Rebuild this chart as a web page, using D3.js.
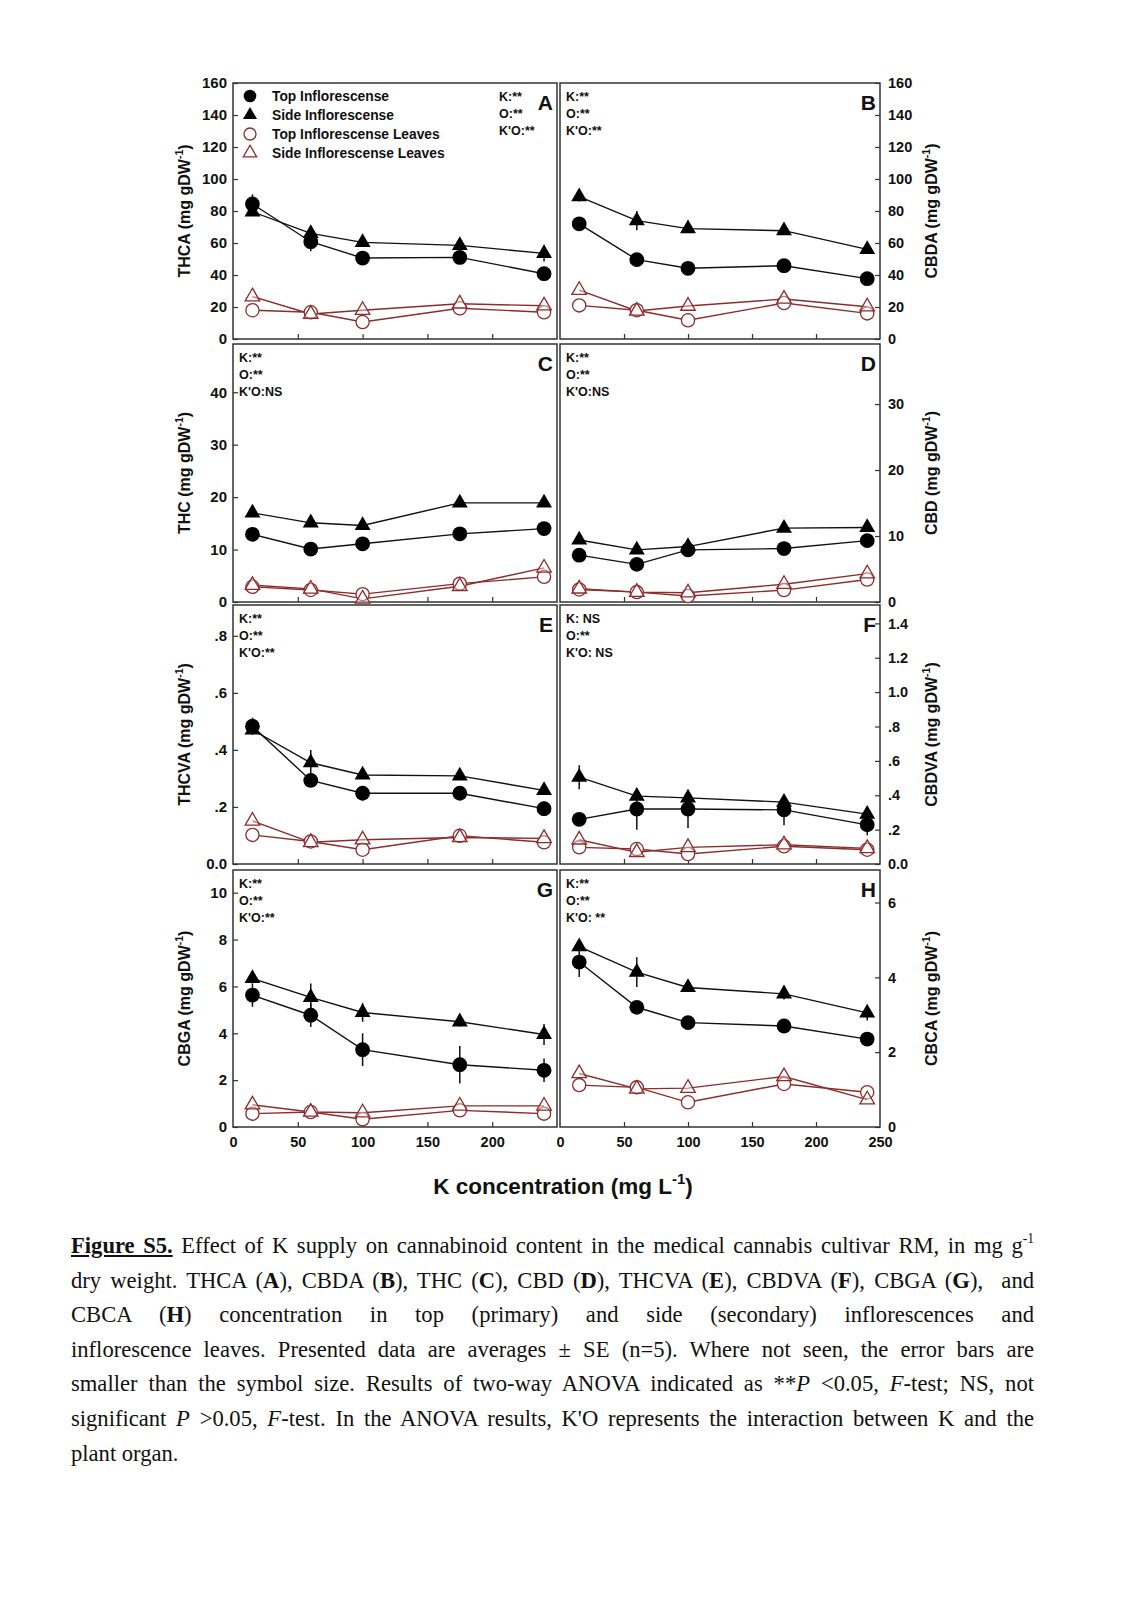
<!DOCTYPE html>
<html>
<head>
<meta charset="utf-8">
<script src="https://cdn.jsdelivr.net/npm/d3@7"></script>
<style>
  html, body { margin: 0; padding: 0; background: #fff; }
  body { width: 1121px; height: 1601px; position: relative; overflow: hidden; }
  .cap { position: absolute; left: 71px; width: 963px; font-family: "Liberation Serif", "Times New Roman", serif; font-size: 22.6px; color: #111; }
  .cap div { height: 34.6px; line-height: 34.6px; text-align: justify; text-align-last: justify; white-space: nowrap; }
  .cap div.last { text-align-last: left; }
  sup { font-size: 0.6em; line-height: 0; vertical-align: 0.75em; }
</style>
</head>
<body>
<script>
// ---------------- data ----------------
const kConc = [15, 60, 100, 175, 240];
const seriesNames = ["Top Inflorescense", "Side Inflorescense", "Top Inflorescense Leaves", "Side Inflorescense Leaves"];
const xTickLabelsG = [0, 50, 100, 150, 200];
const xTickLabelsH = [0, 50, 100, 150, 200, 250];

// THCA (A)
const thcaTop = [84.4, 60.8, 50.6, 51.0, 40.8];
const thcaSide = [79.5, 66.0, 60.4, 58.5, 53.5];
const thcaTopLeaves = [18.0, 16.7, 10.6, 19.2, 16.7];
const thcaSideLeaves = [26.5, 15.6, 18.0, 22.0, 20.8];
const thcaTopErr = [6, 6, 2, 2, 2];
const thcaSideErr = [2, 3, 2, 2, 5];
// CBDA (B)
const cbdaTop = [72.0, 49.6, 44.2, 45.8, 37.7];
const cbdaSide = [89.0, 74.0, 69.0, 67.7, 56.0];
const cbdaTopLeaves = [21.0, 18.0, 11.7, 22.5, 16.0];
const cbdaSideLeaves = [30.5, 17.5, 20.6, 25.0, 20.2];
const cbdaTopErr = [2, 2, 2, 2, 2];
const cbdaSideErr = [3, 6, 2, 2, 2];
// THC (C)
const thcTop = [12.9, 10.1, 11.1, 13.0, 14.0];
const thcSide = [17.0, 15.1, 14.6, 18.9, 18.9];
const thcTopLeaves = [2.9, 2.3, 1.5, 3.5, 4.8];
const thcSideLeaves = [3.2, 2.5, 0.6, 3.0, 6.5];
const thcTopErr = [0.5, 0.5, 0.5, 0.5, 0.5];
const thcSideErr = [0.5, 0.7, 0.5, 0.5, 0.8];
// CBD (D)
const cbdTop = [7.1, 5.7, 7.9, 8.1, 9.3];
const cbdSide = [9.4, 7.9, 8.4, 11.2, 11.3];
const cbdTopLeaves = [1.9, 1.5, 0.9, 1.8, 3.4];
const cbdSideLeaves = [2.0, 1.5, 1.4, 2.7, 4.3];
const cbdTopErr = [0.4, 0.4, 0.4, 0.4, 0.4];
const cbdSideErr = [0.4, 0.4, 0.4, 0.4, 0.4];
// THCVA (E)
const thcvaTop = [0.483, 0.293, 0.248, 0.248, 0.194];
const thcvaSide = [0.470, 0.355, 0.312, 0.309, 0.258];
const thcvaTopLeaves = [0.102, 0.079, 0.050, 0.099, 0.076];
const thcvaSideLeaves = [0.151, 0.076, 0.085, 0.093, 0.090];
const thcvaTopErr = [0.03, 0.015, 0.025, 0.01, 0.025];
const thcvaSideErr = [0.01, 0.045, 0.01, 0.01, 0.01];
// CBDVA (F)
const cbdvaTop = [0.260, 0.320, 0.320, 0.315, 0.228];
const cbdvaSide = [0.505, 0.395, 0.385, 0.360, 0.290];
const cbdvaTopLeaves = [0.097, 0.087, 0.058, 0.103, 0.083];
const cbdvaSideLeaves = [0.141, 0.068, 0.097, 0.112, 0.091];
const cbdvaTopErr = [0.02, 0.12, 0.11, 0.09, 0.06];
const cbdvaSideErr = [0.07, 0.02, 0.02, 0.03, 0.02];
// CBGA (G)
const cbgaTop = [5.63, 4.77, 3.30, 2.66, 2.42];
const cbgaSide = [6.34, 5.53, 4.89, 4.49, 3.95];
const cbgaTopLeaves = [0.57, 0.64, 0.33, 0.71, 0.57];
const cbgaSideLeaves = [0.95, 0.64, 0.61, 0.90, 0.90];
const cbgaTopErr = [0.5, 0.5, 0.7, 0.8, 0.5];
const cbgaSideErr = [0.2, 0.6, 0.4, 0.2, 0.45];
// CBCA (H)
const cbcaTop = [4.41, 3.20, 2.79, 2.70, 2.35];
const cbcaSide = [4.82, 4.14, 3.73, 3.56, 3.05];
const cbcaTopLeaves = [1.12, 1.06, 0.66, 1.15, 0.93];
const cbcaSideLeaves = [1.43, 1.02, 1.04, 1.35, 0.73];
const cbcaTopErr = [0.4, 0.15, 0.15, 0.12, 0.15];
const cbcaSideErr = [0.1, 0.4, 0.12, 0.15, 0.2];

// y ticks
const ticksA = [0, 20, 40, 60, 80, 100, 120, 140, 160];
const ticksB = [0, 20, 40, 60, 80, 100, 120, 140, 160];
const ticksC = [0, 10, 20, 30, 40];
const ticksD = [0, 10, 20, 30];
const ticksE = [0, 0.2, 0.4, 0.6, 0.8];
const tickLabelsE = ["0.0", ".2", ".4", ".6", ".8"];
const ticksF = [0, 0.2, 0.4, 0.6, 0.8, 1.0, 1.2, 1.4];
const tickLabelsF = ["0.0", ".2", ".4", ".6", ".8", "1.0", "1.2", "1.4"];
const ticksG = [0, 2, 4, 6, 8, 10];
const ticksH = [0, 2, 4, 6];

// ---------------- layout ----------------
const W = 1121, H = 1601;
const cols = [{x0: 233, x1: 557}, {x0: 560, x1: 880}];
const rows = [{y0: 83, y1: 339}, {y0: 344, y1: 602}, {y0: 605, y1: 864}, {y0: 870, y1: 1127}];
const RED = "#8e2b2b";
const FONT = "Arial, 'Liberation Sans', Helvetica, sans-serif";

const panels = [
  {letter: "A", col: 0, row: 0, ymax: 160, ticks: ticksA, labels: null, name: "THCA",
   s: [thcaTop, thcaSide, thcaTopLeaves, thcaSideLeaves], e: [thcaTopErr, thcaSideErr],
   anova: ["K:**", "O:**", "K'O:**"], anovaRight: true},
  {letter: "B", col: 1, row: 0, ymax: 160, ticks: ticksB, labels: null, name: "CBDA",
   s: [cbdaTop, cbdaSide, cbdaTopLeaves, cbdaSideLeaves], e: [cbdaTopErr, cbdaSideErr],
   anova: ["K:**", "O:**", "K'O:**"]},
  {letter: "C", col: 0, row: 1, ymax: 49.2, ticks: ticksC, labels: null, name: "THC",
   s: [thcTop, thcSide, thcTopLeaves, thcSideLeaves], e: [thcTopErr, thcSideErr],
   anova: ["K:**", "O:**", "K'O:NS"]},
  {letter: "D", col: 1, row: 1, ymax: 39.1, ticks: ticksD, labels: null, name: "CBD",
   s: [cbdTop, cbdSide, cbdTopLeaves, cbdSideLeaves], e: [cbdTopErr, cbdSideErr],
   anova: ["K:**", "O:**", "K'O:NS"]},
  {letter: "E", col: 0, row: 2, ymax: 0.908, ticks: ticksE, labels: tickLabelsE, name: "THCVA",
   s: [thcvaTop, thcvaSide, thcvaTopLeaves, thcvaSideLeaves], e: [thcvaTopErr, thcvaSideErr],
   anova: ["K:**", "O:**", "K'O:**"]},
  {letter: "F", col: 1, row: 2, ymax: 1.507, ticks: ticksF, labels: tickLabelsF, name: "CBDVA",
   s: [cbdvaTop, cbdvaSide, cbdvaTopLeaves, cbdvaSideLeaves], e: [cbdvaTopErr, cbdvaSideErr],
   anova: ["K: NS", "O:**", "K'O: NS"]},
  {letter: "G", col: 0, row: 3, ymax: 10.97, ticks: ticksG, labels: null, name: "CBGA",
   s: [cbgaTop, cbgaSide, cbgaTopLeaves, cbgaSideLeaves], e: [cbgaTopErr, cbgaSideErr],
   anova: ["K:**", "O:**", "K'O:**"], xlabels: xTickLabelsG},
  {letter: "H", col: 1, row: 3, ymax: 6.87, ticks: ticksH, labels: null, name: "CBCA",
   s: [cbcaTop, cbcaSide, cbcaTopLeaves, cbcaSideLeaves], e: [cbcaTopErr, cbcaSideErr],
   anova: ["K:**", "O:**", "K'O: **"], xlabels: xTickLabelsH}
];

const svg = d3.select("body").append("svg")
  .attr("width", W).attr("height", H)
  .style("position", "absolute").style("left", 0).style("top", 0)
  .attr("font-family", FONT);

const triangle = d3.symbol().type(d3.symbolTriangle).size(110);
const triangleOpen = d3.symbol().type(d3.symbolTriangle).size(92);

function yLabel(g, x, y, name, rot) {
  const t = g.append("text")
    .attr("transform", `translate(${x},${y}) rotate(${rot})`)
    .attr("text-anchor", "middle")
    .attr("font-size", 16).attr("font-weight", "bold").attr("fill", "#111");
  t.append("tspan").text(name + " (mg gDW");
  t.append("tspan").attr("font-size", 10.5).attr("dy", -7).text("-1");
  t.append("tspan").attr("dy", 7).text(")");
}

panels.forEach(p => {
  const c = cols[p.col], r = rows[p.row];
  const x = d3.scaleLinear().domain([0, 250]).range([c.x0, c.x1]);
  const y = d3.scaleLinear().domain([0, p.ymax]).range([r.y1, r.y0]);
  const g = svg.append("g");

  // frame
  g.append("rect").attr("x", c.x0).attr("y", r.y0)
    .attr("width", c.x1 - c.x0).attr("height", r.y1 - r.y0)
    .attr("fill", "none").attr("stroke", "#333").attr("stroke-width", 1.5);

  // bottom ticks (inward)
  const xa = g.append("g").attr("transform", `translate(0,${r.y1})`)
    .call(d3.axisBottom(x).tickValues([50, 100, 150, 200]).tickSize(-5).tickFormat(""));
  xa.select(".domain").remove();
  xa.selectAll("line").attr("stroke", "#333").attr("stroke-width", 1.2);

  if (p.xlabels) {
    const xl = g.append("g").attr("transform", `translate(0,${r.y1})`)
      .call(d3.axisBottom(x).tickValues(p.xlabels).tickSize(0).tickPadding(10).tickFormat(d3.format("d")));
    xl.select(".domain").remove();
    xl.selectAll("text").attr("font-size", 14.5).attr("font-weight", "bold")
      .attr("font-family", FONT).attr("fill", "#111");
  }

  // y axis
  const fmt = p.labels ? ((d, i) => p.labels[i]) : d3.format("d");
  if (p.col === 0) {
    const ya = g.append("g").attr("transform", `translate(${c.x0},0)`)
      .call(d3.axisLeft(y).tickValues(p.ticks).tickSize(-5).tickPadding(6).tickFormat(fmt));
    ya.select(".domain").remove();
    ya.selectAll("line").attr("stroke", "#333").attr("stroke-width", 1.2);
    ya.selectAll("text").attr("font-size", 15).attr("font-weight", "bold")
      .attr("font-family", FONT).attr("fill", "#111");
    yLabel(g, 190, (r.y0 + r.y1) / 2, p.name, -90);
  } else {
    const ya = g.append("g").attr("transform", `translate(${c.x1},0)`)
      .call(d3.axisRight(y).tickValues(p.ticks).tickSize(-5).tickPadding(8).tickFormat(fmt));
    ya.select(".domain").remove();
    ya.selectAll("line").attr("stroke", "#333").attr("stroke-width", 1.2);
    ya.selectAll("text").attr("font-size", 14.5).attr("font-weight", "bold")
      .attr("font-family", FONT).attr("fill", "#111");
    yLabel(g, 937, (r.y0 + r.y1) / 2, p.name, -90);
  }

  // panel letter
  g.append("text").attr("x", c.x1 - 4).attr("y", r.y0 + 27)
    .attr("text-anchor", "end").attr("font-size", 21).attr("font-weight", "bold")
    .attr("fill", "#111").text(p.letter);

  // ANOVA
  const ax = p.anovaRight ? c.x1 - 58 : c.x0 + 6;
  p.anova.forEach((t, i) => {
    g.append("text").attr("x", ax).attr("y", r.y0 + 18 + i * 17)
      .attr("font-size", 12.5).attr("font-weight", "bold").attr("fill", "#111").text(t);
  });

  const line = d3.line().x((d, i) => x(kConc[i])).y(d => y(d));

  // leaves (red, open)
  [2, 3].forEach(k => {
    g.append("path").datum(p.s[k]).attr("d", line)
      .attr("fill", "none").attr("stroke", RED).attr("stroke-width", 1.4);
  });
  // inflorescence lines
  [0, 1].forEach(k => {
    g.append("path").datum(p.s[k]).attr("d", line)
      .attr("fill", "none").attr("stroke", "#111").attr("stroke-width", 1.4);
  });
  // error bars
  [0, 1].forEach(k => {
    g.selectAll(null).data(p.s[k]).enter().append("line")
      .attr("x1", (d, i) => x(kConc[i])).attr("x2", (d, i) => x(kConc[i]))
      .attr("y1", (d, i) => y(d - p.e[k][i])).attr("y2", (d, i) => y(d + p.e[k][i]))
      .attr("stroke", "#111").attr("stroke-width", 1.5);
  });
  // open markers
  g.selectAll(null).data(p.s[2]).enter().append("circle")
    .attr("cx", (d, i) => x(kConc[i])).attr("cy", d => y(d)).attr("r", 6.6)
    .attr("fill", "#fff").attr("stroke", RED).attr("stroke-width", 1.3);
  g.selectAll(null).data(p.s[3]).enter().append("path")
    .attr("d", triangleOpen)
    .attr("transform", (d, i) => `translate(${x(kConc[i])},${y(d)})`)
    .attr("fill", "#fff").attr("fill-opacity", 0.4).attr("stroke", RED).attr("stroke-width", 1.3);
  // filled markers
  g.selectAll(null).data(p.s[0]).enter().append("circle")
    .attr("cx", (d, i) => x(kConc[i])).attr("cy", d => y(d)).attr("r", 7.4)
    .attr("fill", "#000");
  g.selectAll(null).data(p.s[1]).enter().append("path")
    .attr("d", triangle)
    .attr("transform", (d, i) => `translate(${x(kConc[i])},${y(d)})`)
    .attr("fill", "#000");

  // legend in A
  if (p.letter === "A") {
    const lg = g.append("g");
    seriesNames.forEach((nm, i) => {
      const ly = r.y0 + 13 + i * 19;
      const lx = c.x0 + 17;
      if (i === 0) lg.append("circle").attr("cx", lx).attr("cy", ly).attr("r", 6.3).attr("fill", "#000");
      if (i === 1) lg.append("path").attr("d", d3.symbol().type(d3.symbolTriangle).size(85)).attr("transform", `translate(${lx},${ly})`).attr("fill", "#000");
      if (i === 2) lg.append("circle").attr("cx", lx).attr("cy", ly).attr("r", 6).attr("fill", "#fff").attr("stroke", RED).attr("stroke-width", 1.3);
      if (i === 3) lg.append("path").attr("d", d3.symbol().type(d3.symbolTriangle).size(78)).attr("transform", `translate(${lx},${ly})`).attr("fill", "#fff").attr("stroke", RED).attr("stroke-width", 1.3);
      lg.append("text").attr("x", lx + 22).attr("y", ly + 5)
        .attr("font-size", 13.8).attr("font-weight", "bold").attr("fill", "#111").text(nm);
    });
  }
});

// x-axis title
const xt = svg.append("text").attr("x", 563).attr("y", 1194).attr("text-anchor", "middle")
  .attr("font-size", 22.5).attr("font-weight", "bold").attr("fill", "#111");
xt.append("tspan").text("K concentration (mg L");
xt.append("tspan").attr("font-size", 15).attr("dy", -10).text("-1");
xt.append("tspan").attr("dy", 10).text(")");

// caption
const capLines = [
  '<b><u>Figure S5.</u></b> Effect of K supply on cannabinoid content in the medical cannabis cultivar RM, in mg g<sup>-1</sup>',
  'dry weight. THCA (<b>A</b>), CBDA (<b>B</b>), THC (<b>C</b>), CBD (<b>D</b>), THCVA (<b>E</b>), CBDVA (<b>F</b>), CBGA (<b>G</b>), &nbsp;and',
  'CBCA (<b>H</b>) concentration in top (primary) and side (secondary) inflorescences and',
  'inflorescence leaves. Presented data are averages ± SE (n=5). Where not seen, the error bars are',
  'smaller than the symbol size. Results of two-way ANOVA indicated as **<i>P</i> &lt;0.05, <i>F</i>-test; NS, not',
  'significant <i>P</i> &gt;0.05, <i>F</i>-test. In the ANOVA results, K\'O represents the interaction between K and the',
  'plant organ.'
];
const cap = d3.select("body").append("div").attr("class", "cap").style("top", "1229px");
cap.selectAll("div").data(capLines).enter().append("div")
  .attr("class", (d, i) => i === capLines.length - 1 ? "last" : null)
  .html(d => d);
</script>
</body>
</html>
